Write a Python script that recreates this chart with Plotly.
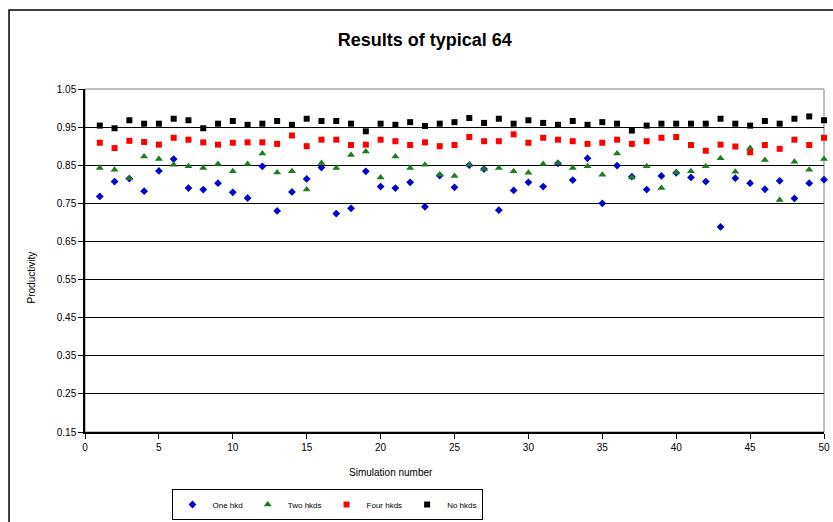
import plotly.graph_objects as go

sim = list(range(1, 51))

one_hkd = [0.768, 0.807, 0.815, 0.782, 0.835, 0.866, 0.790, 0.786, 0.803, 0.779,
           0.764, 0.847, 0.730, 0.780, 0.814, 0.844, 0.723, 0.737, 0.834, 0.794,
           0.790, 0.805, 0.741, 0.823, 0.792, 0.850, 0.840, 0.732, 0.784, 0.805,
           0.794, 0.855, 0.811, 0.868, 0.750, 0.849, 0.820, 0.786, 0.822, 0.830,
           0.818, 0.807, 0.688, 0.816, 0.803, 0.787, 0.809, 0.763, 0.803, 0.812]

two_hkds = [0.843, 0.838, 0.816, 0.873, 0.866, 0.851, 0.847, 0.843, 0.853, 0.834,
            0.853, 0.881, 0.831, 0.834, 0.786, 0.856, 0.843, 0.877, 0.886, 0.818,
            0.873, 0.843, 0.851, 0.825, 0.822, 0.851, 0.840, 0.843, 0.834, 0.830,
            0.853, 0.856, 0.843, 0.847, 0.825, 0.881, 0.818, 0.847, 0.790, 0.831,
            0.834, 0.847, 0.868, 0.833, 0.895, 0.864, 0.759, 0.859, 0.838, 0.866]

four_hkds = [0.909, 0.895, 0.914, 0.911, 0.904, 0.922, 0.917, 0.910, 0.904, 0.909,
             0.910, 0.910, 0.906, 0.928, 0.900, 0.917, 0.917, 0.903, 0.904, 0.917,
             0.913, 0.903, 0.910, 0.900, 0.903, 0.924, 0.913, 0.913, 0.931, 0.909,
             0.922, 0.917, 0.913, 0.906, 0.909, 0.917, 0.906, 0.913, 0.922, 0.924,
             0.903, 0.888, 0.904, 0.899, 0.884, 0.903, 0.893, 0.917, 0.903, 0.922]

no_hkds = [0.954, 0.947, 0.968, 0.959, 0.959, 0.972, 0.968, 0.947, 0.959, 0.966,
           0.956, 0.959, 0.966, 0.956, 0.972, 0.966, 0.966, 0.959, 0.939, 0.959,
           0.956, 0.963, 0.953, 0.959, 0.963, 0.974, 0.961, 0.972, 0.959, 0.968,
           0.961, 0.956, 0.966, 0.956, 0.963, 0.959, 0.941, 0.954, 0.959, 0.959,
           0.959, 0.959, 0.972, 0.959, 0.954, 0.966, 0.959, 0.972, 0.978, 0.968]

series_names = ["One hkd", "Two hkds", "Four hkds", "No hkds"]

FONT = "Arial, Liberation Sans, sans-serif"

fig = go.Figure()
fig.add_trace(go.Scatter(x=sim, y=one_hkd, mode="markers", name=series_names[0], cliponaxis=False,
                         marker=dict(symbol="diamond", size=6, color="#0000CC")))
fig.add_trace(go.Scatter(x=sim, y=two_hkds, mode="markers", name=series_names[1], cliponaxis=False,
                         marker=dict(symbol="triangle-up", size=7, color="#1E7B1E")))
fig.add_trace(go.Scatter(x=sim, y=four_hkds, mode="markers", name=series_names[2], cliponaxis=False,
                         marker=dict(symbol="square", size=6, color="#FF0000")))
fig.add_trace(go.Scatter(x=sim, y=no_hkds, mode="markers", name=series_names[3], cliponaxis=False,
                         marker=dict(symbol="square", size=6, color="#000000")))

fig.update_layout(
    width=833, height=522,
    margin=dict(l=85, r=9, t=89, b=90),
    paper_bgcolor="white", plot_bgcolor="white",
    font=dict(family=FONT, size=10, color="black"),
    title=dict(text="<b>Results of typical 64</b>", x=0.51, xanchor="center",
               y=0.923, yanchor="middle", font=dict(size=18, family=FONT, color="black")),
    showlegend=True,
    legend=dict(orientation="h", xref="container", yref="container",
                x=327 / 833, xanchor="center", y=1 - 489 / 522, yanchor="top",
                bordercolor="black", borderwidth=1, bgcolor="white",
                font=dict(size=8, family=FONT), itemwidth=30, tracegroupgap=0),
    xaxis=dict(range=[0, 50], tick0=0, dtick=5, showgrid=False, zeroline=False,
               showline=True, linecolor="black", linewidth=1.5, ticks="outside",
               ticklen=5, tickcolor="black", tickfont=dict(size=10), mirror=False,
               automargin=False),
    yaxis=dict(range=[0.15, 1.05], tick0=0.15, dtick=0.1, tickformat=".2f",
               showgrid=True, gridcolor="black", gridwidth=1, zeroline=False,
               showline=True, linecolor="black", linewidth=1.5, ticks="outside",
               ticklen=5, tickcolor="black", tickfont=dict(size=10), automargin=False),
    annotations=[
        dict(text="Simulation number", xref="paper", yref="paper", x=0.414, y=-0.117,
             xanchor="center", yanchor="middle", showarrow=False, font=dict(size=10)),
        dict(text="Productivity", xref="paper", yref="paper", x=-0.072, y=0.45,
             xanchor="center", yanchor="middle", textangle=-90, showarrow=False,
             font=dict(size=10)),
    ],
    shapes=[
        dict(type="rect", xref="paper", yref="paper", x0=0, y0=0, x1=1, y1=1,
             line=dict(color="#808080", width=1), layer="below"),
        dict(type="rect", xref="paper", yref="paper", x0=-0.1028, y0=-0.6, x1=1.2, y1=1.2303,
             line=dict(color="black", width=1.5)),
    ],
)

fig.write_html("out.html", config={"displayModeBar": False},
               post_script="document.body.style.margin='0';document.body.style.overflow='hidden';")
